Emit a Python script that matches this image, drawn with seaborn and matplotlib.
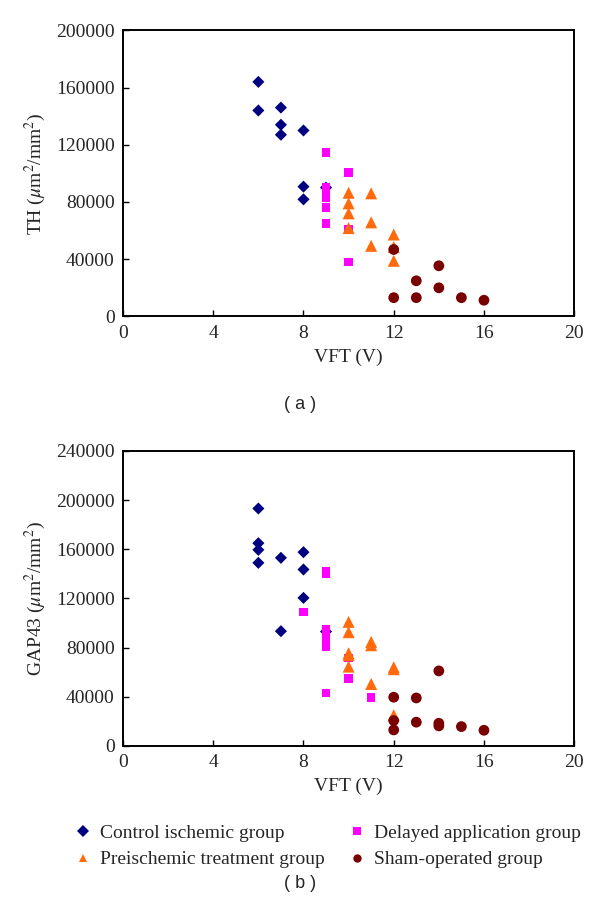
import pandas as pd
import matplotlib.pyplot as plt
import seaborn as sns

groups = ['Control ischemic group', 'Delayed application group',
          'Preischemic treatment group', 'Sham-operated group']

# (a) TH
th_control_x = [6, 6, 7, 7, 7, 8, 8, 8, 9]
th_control_y = [164000, 144000, 146000, 134000, 127000, 130000, 90700, 81800, 90000]
th_delayed_x = [9, 9, 9, 9, 9, 9, 10, 10, 10]
th_delayed_y = [114500, 90000, 88000, 82700, 76000, 65000, 100700, 60700, 37800]
th_pre_x = [10, 10, 10, 10, 11, 11, 11, 12, 12, 12]
th_pre_y = [86400, 79000, 72000, 61700, 86000, 65700, 49300, 57200, 48500, 38800]
th_sham_x = [12, 12, 13, 13, 14, 14, 15, 16]
th_sham_y = [46700, 13000, 24800, 13000, 35300, 19900, 13000, 11200]

# (b) GAP43
gap_control_x = [6, 6, 6, 6, 7, 7, 8, 8, 8, 9]
gap_control_y = [193100, 164900, 159500, 148900, 153000, 93300, 157600, 143500, 120400, 93000]
gap_delayed_x = [8, 9, 9, 9, 9, 9, 9, 9, 10, 10, 11]
gap_delayed_y = [108700, 142100, 140000, 95000, 91000, 87600, 80800, 42800, 71600, 54800, 39300]
gap_pre_x = [10, 10, 10, 10, 10, 11, 11, 11, 12, 12, 12]
gap_pre_y = [100900, 92500, 75400, 73800, 64500, 84600, 81900, 50400, 64000, 62400, 25000]
gap_sham_x = [12, 12, 12, 13, 13, 14, 14, 14, 15, 16]
gap_sham_y = [39600, 20600, 13000, 39000, 19300, 61000, 18400, 16300, 15700, 12700]


def make_df(xs, ys):
    parts = []
    for g, x, y in zip(groups, xs, ys):
        parts.append(pd.DataFrame({'VFT': x, 'value': y, 'group': g}))
    return pd.concat(parts, ignore_index=True)


df_th = make_df([th_control_x, th_delayed_x, th_pre_x, th_sham_x],
                [th_control_y, th_delayed_y, th_pre_y, th_sham_y])
df_gap = make_df([gap_control_x, gap_delayed_x, gap_pre_x, gap_sham_x],
                 [gap_control_y, gap_delayed_y, gap_pre_y, gap_sham_y])

palette = {groups[0]: '#000080', groups[1]: '#FF00FF',
           groups[2]: '#FF6A0D', groups[3]: '#7A0000'}
markers = {groups[0]: 'D', groups[1]: 's', groups[2]: '^', groups[3]: 'o'}
sizes = {groups[0]: 38, groups[1]: 36, groups[2]: 75, groups[3]: 60}

sns.set_style('white')
plt.rcParams['font.family'] = ['Liberation Serif', 'DejaVu Serif']
plt.rcParams['mathtext.fontset'] = 'stix'

fig = plt.figure(figsize=(6, 9.22), dpi=100)
ax1 = fig.add_axes([0.205, 0.657, 0.752, 0.310])
ax2 = fig.add_axes([0.205, 0.191, 0.752, 0.320])


def draw(ax, df, ymax, ystep, ylabel, legend):
    sns.scatterplot(data=df, x='VFT', y='value', hue='group', style='group',
                    size='group', sizes=sizes, palette=palette, markers=markers,
                    edgecolor='none', linewidth=0, ax=ax, legend=legend)
    ax.set_xlim(0, 20)
    ax.set_ylim(0, ymax)
    ax.set_xticks(range(0, 21, 4))
    ax.set_yticks(range(0, ymax + 1, ystep))
    ax.tick_params(direction='in', length=4, width=1, labelsize=14,
                   color='black', bottom=True, left=True, pad=6)
    for s in ax.spines.values():
        s.set_color('black')
        s.set_linewidth(1.4)
    ax.set_xlabel('VFT (V)', fontsize=14, labelpad=5)
    ax.set_ylabel(ylabel, fontsize=14, labelpad=6)


draw(ax1, df_th, 200000, 40000, 'TH ($\\mu$m$^2$/mm$^2$)', False)
draw(ax2, df_gap, 240000, 40000, 'GAP43 ($\\mu$m$^2$/mm$^2$)', True)

handles, labels = ax2.get_legend_handles_labels()
ax2.get_legend().remove()
lookup = dict(zip(labels, handles))
order = [groups[0], groups[2], groups[1], groups[3]]
for h in lookup.values():
    h.set_markersize(6)
fig.legend([lookup[g] for g in order], order, ncol=2, frameon=False,
           fontsize=14, loc='center', bbox_to_anchor=(0.545, 0.082),
           handletextpad=0.4, columnspacing=1.15, labelspacing=0.45,
           handlelength=1.0)

fig.text(0.5, 0.561, '( a )', ha='center', va='center', fontsize=13,
         family='Liberation Sans')
fig.text(0.5, 0.042, '( b )', ha='center', va='center', fontsize=13,
         family='Liberation Sans')

fig.savefig('out.png', dpi=100)
